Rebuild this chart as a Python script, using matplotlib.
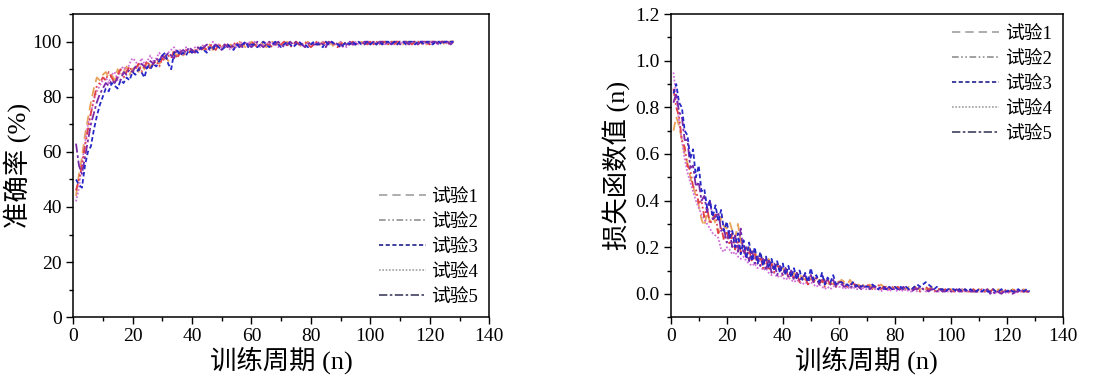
import matplotlib
matplotlib.use("Agg")
import matplotlib.pyplot as plt
from matplotlib.ticker import MultipleLocator, FormatStrFormatter
from matplotlib.lines import Line2D

epochs = list(range(1, 129))

acc1 = [44, 52, 58, 66, 72, 78, 83, 87, 86, 88,
        89, 87, 88, 86, 90, 88, 89, 91, 88, 90,
        91, 89, 92, 90, 93, 91, 92, 94, 92, 93,
        95, 93, 94, 96, 95, 97, 95, 96, 97, 96,
        97, 96, 98, 97, 98, 99, 97, 98, 99, 98,
        99, 98, 99, 98, 99, 100, 99, 98, 99, 100,
        99, 99, 100, 99, 98, 99, 100, 99, 99, 100,
        99, 100, 99, 99, 100, 99, 98, 99, 100, 99,
        100, 99, 99, 100, 99, 100, 99, 98, 99, 100,
        99, 100, 99, 100, 99, 99, 100, 99, 100, 99,
        100, 99, 100, 99, 100, 99, 100, 100, 99, 100,
        99, 100, 100, 99, 100, 99, 100, 100, 99, 100,
        100, 99, 100, 100, 99, 100, 100, 100]
acc2 = [46, 50, 55, 62, 68, 74, 79, 84, 85, 87,
        86, 89, 87, 85, 88, 90, 87, 89, 91, 89,
        90, 92, 89, 91, 93, 90, 92, 93, 91, 94,
        93, 95, 94, 97, 94, 96, 95, 97, 96, 97,
        96, 98, 97, 98, 97, 99, 98, 97, 99, 98,
        98, 99, 98, 99, 100, 98, 99, 99, 98, 100,
        99, 98, 99, 100, 99, 99, 98, 100, 99, 99,
        100, 99, 98, 99, 100, 99, 99, 100, 99, 98,
        99, 100, 99, 99, 100, 99, 100, 99, 98, 99,
        100, 99, 99, 100, 99, 100, 99, 100, 99, 100,
        99, 100, 99, 100, 100, 99, 100, 99, 100, 100,
        100, 99, 100, 99, 100, 100, 99, 100, 100, 99,
        100, 100, 99, 100, 100, 99, 100, 100]
acc3 = [50, 48, 47, 55, 60, 62, 68, 73, 77, 80,
        83, 82, 85, 84, 83, 86, 85, 87, 86, 89,
        88, 90, 89, 87, 91, 90, 92, 91, 93, 95,
        96, 92, 90, 96, 97, 95, 96, 95, 97, 96,
        97, 96, 98, 97, 96, 98, 97, 99, 98, 97,
        98, 99, 98, 97, 99, 98, 99, 100, 98, 99,
        99, 98, 99, 100, 99, 98, 99, 100, 99, 98,
        99, 100, 99, 98, 99, 100, 99, 99, 98, 99,
        100, 99, 99, 98, 100, 99, 100, 99, 99, 98,
        99, 100, 99, 100, 99, 100, 99, 99, 100, 99,
        100, 99, 100, 99, 100, 100, 99, 100, 99, 100,
        100, 99, 100, 100, 99, 100, 100, 99, 100, 100,
        99, 100, 100, 99, 100, 100, 100, 100]
acc4 = [42, 47, 56, 63, 70, 74, 79, 82, 84, 86,
        87, 85, 88, 89, 86, 90, 91, 89, 92, 94,
        93, 91, 94, 92, 93, 95, 93, 94, 96, 94,
        95, 96, 97, 98, 96, 97, 95, 98, 97, 96,
        98, 97, 98, 99, 97, 98, 100, 98, 99, 98,
        99, 98, 97, 99, 98, 99, 100, 99, 100, 99,
        100, 99, 98, 99, 100, 99, 100, 99, 98, 99,
        100, 99, 100, 99, 99, 100, 99, 98, 100, 99,
        99, 100, 99, 100, 99, 99, 100, 99, 99, 100,
        99, 98, 100, 99, 100, 99, 100, 99, 100, 100,
        99, 100, 99, 100, 99, 100, 100, 99, 100, 99,
        100, 100, 99, 100, 99, 100, 100, 100, 99, 100,
        100, 99, 100, 100, 100, 99, 100, 100]
acc5 = [63, 55, 52, 58, 64, 70, 74, 78, 81, 83,
        85, 84, 86, 85, 87, 86, 89, 88, 90, 89,
        91, 90, 92, 91, 90, 93, 92, 94, 93, 95,
        94, 96, 95, 94, 97, 96, 97, 96, 98, 97,
        96, 98, 97, 98, 99, 97, 98, 99, 98, 97,
        99, 98, 99, 98, 99, 99, 98, 100, 99, 98,
        99, 100, 99, 98, 99, 100, 99, 99, 100, 99,
        98, 99, 100, 99, 100, 99, 99, 98, 99, 100,
        99, 99, 100, 99, 98, 100, 99, 100, 99, 99,
        98, 99, 100, 99, 99, 100, 99, 100, 100, 99,
        100, 99, 100, 100, 99, 100, 99, 100, 100, 99,
        100, 100, 99, 100, 100, 99, 100, 100, 100, 99,
        100, 100, 99, 100, 100, 100, 99, 100]

loss1 = [0.70, 0.76, 0.72, 0.66, 0.60, 0.56, 0.50, 0.46, 0.42, 0.38,
         0.32, 0.29, 0.35, 0.31, 0.34, 0.30, 0.26, 0.33, 0.29, 0.28,
         0.31, 0.27, 0.24, 0.30, 0.22, 0.21, 0.19, 0.20, 0.17, 0.18,
         0.15, 0.17, 0.14, 0.13, 0.15, 0.12, 0.11, 0.13, 0.10, 0.11,
         0.09, 0.10, 0.08, 0.09, 0.07, 0.08, 0.07, 0.06, 0.08, 0.06,
         0.07, 0.05, 0.06, 0.05, 0.06, 0.04, 0.05, 0.04, 0.06, 0.05,
         0.06, 0.05, 0.04, 0.06, 0.04, 0.03, 0.04, 0.03, 0.04, 0.03,
         0.04, 0.03, 0.02, 0.03, 0.04, 0.03, 0.02, 0.03, 0.02, 0.03,
         0.02, 0.03, 0.02, 0.02, 0.03, 0.02, 0.03, 0.02, 0.02, 0.03,
         0.02, 0.02, 0.03, 0.02, 0.01, 0.02, 0.02, 0.01, 0.02, 0.02,
         0.01, 0.02, 0.01, 0.02, 0.01, 0.01, 0.02, 0.01, 0.01, 0.02,
         0.01, 0.01, 0.02, 0.01, 0.01, 0.01, 0.02, 0.01, 0.01, 0.01,
         0.01, 0.02, 0.01, 0.01, 0.01, 0.02, 0.01, 0.01]
loss2 = [0.88, 0.80, 0.76, 0.66, 0.63, 0.55, 0.53, 0.46, 0.45, 0.39,
         0.40, 0.33, 0.37, 0.30, 0.32, 0.34, 0.26, 0.29, 0.23, 0.27,
         0.21, 0.26, 0.19, 0.23, 0.18, 0.21, 0.15, 0.19, 0.14, 0.17,
         0.13, 0.16, 0.11, 0.15, 0.10, 0.13, 0.09, 0.12, 0.11, 0.08,
         0.11, 0.07, 0.10, 0.06, 0.09, 0.05, 0.08, 0.07, 0.04, 0.08,
         0.05, 0.07, 0.04, 0.06, 0.03, 0.06, 0.04, 0.05, 0.03, 0.05,
         0.05, 0.04, 0.03, 0.04, 0.05, 0.03, 0.04, 0.03, 0.03, 0.04,
         0.03, 0.02, 0.03, 0.04, 0.02, 0.03, 0.03, 0.02, 0.03, 0.02,
         0.03, 0.02, 0.02, 0.03, 0.02, 0.02, 0.03, 0.02, 0.01, 0.02,
         0.03, 0.02, 0.02, 0.01, 0.02, 0.02, 0.01, 0.02, 0.01, 0.02,
         0.01, 0.01, 0.02, 0.01, 0.02, 0.01, 0.01, 0.02, 0.01, 0.01,
         0.02, 0.01, 0.01, 0.01, 0.02, 0.01, 0.01, 0.01, 0.02, 0.01,
         0.01, 0.01, 0.02, 0.01, 0.01, 0.01, 0.01, 0.01]
loss3 = [0.86, 0.90, 0.82, 0.80, 0.70, 0.68, 0.58, 0.62, 0.50, 0.55,
         0.44, 0.45, 0.37, 0.40, 0.33, 0.38, 0.31, 0.36, 0.27, 0.31,
         0.24, 0.27, 0.20, 0.26, 0.17, 0.23, 0.15, 0.22, 0.14, 0.20,
         0.13, 0.18, 0.12, 0.16, 0.11, 0.15, 0.10, 0.14, 0.09, 0.13,
         0.08, 0.12, 0.07, 0.11, 0.06, 0.10, 0.06, 0.09, 0.05, 0.11,
         0.06, 0.08, 0.05, 0.09, 0.04, 0.07, 0.05, 0.08, 0.04, 0.05,
         0.05, 0.04, 0.04, 0.03, 0.05, 0.03, 0.04, 0.03, 0.04, 0.03,
         0.03, 0.04, 0.03, 0.02, 0.03, 0.03, 0.02, 0.03, 0.02, 0.03,
         0.02, 0.03, 0.02, 0.03, 0.02, 0.02, 0.03, 0.04, 0.03, 0.04,
         0.05, 0.04, 0.03, 0.02, 0.03, 0.02, 0.02, 0.01, 0.02, 0.02,
         0.02, 0.01, 0.02, 0.01, 0.02, 0.01, 0.02, 0.01, 0.01, 0.02,
         0.01, 0.02, 0.01, 0.01, 0.02, 0.01, 0.01, 0.02, 0.01, 0.01,
         0.02, 0.01, 0.01, 0.02, 0.01, 0.01, 0.02, 0.01]
loss4 = [0.95, 0.85, 0.74, 0.66, 0.58, 0.52, 0.48, 0.44, 0.40, 0.37,
         0.34, 0.32, 0.30, 0.28, 0.26, 0.25, 0.24, 0.19, 0.18, 0.20,
         0.19, 0.17, 0.18, 0.16, 0.15, 0.16, 0.14, 0.13, 0.12, 0.13,
         0.11, 0.12, 0.10, 0.11, 0.09, 0.08, 0.09, 0.07, 0.08, 0.07,
         0.06, 0.07, 0.06, 0.05, 0.06, 0.05, 0.04, 0.05, 0.04, 0.05,
         0.04, 0.03, 0.04, 0.03, 0.02, 0.03, 0.02, 0.03, 0.04, 0.03,
         0.03, 0.02, 0.03, 0.02, 0.03, 0.02, 0.02, 0.03, 0.02, 0.02,
         0.02, 0.03, 0.02, 0.02, 0.01, 0.02, 0.02, 0.01, 0.02, 0.02,
         0.01, 0.02, 0.01, 0.02, 0.01, 0.01, 0.02, 0.01, 0.01, 0.02,
         0.01, 0.01, 0.02, 0.01, 0.01, 0.01, 0.02, 0.01, 0.01, 0.01,
         0.01, 0.01, 0.01, 0.02, 0.01, 0.01, 0.01, 0.01, 0.02, 0.01,
         0.01, 0.01, 0.01, 0.01, 0.00, 0.01, 0.00, 0.01, 0.01, 0.00,
         0.01, 0.01, 0.00, 0.01, 0.01, 0.01, 0.01, 0.01]
loss5 = [0.82, 0.86, 0.78, 0.76, 0.66, 0.66, 0.54, 0.55, 0.46, 0.48,
         0.40, 0.42, 0.35, 0.40, 0.32, 0.33, 0.35, 0.27, 0.28, 0.22,
         0.27, 0.20, 0.25, 0.18, 0.28, 0.17, 0.20, 0.14, 0.19, 0.13,
         0.16, 0.12, 0.15, 0.10, 0.15, 0.09, 0.13, 0.08, 0.12, 0.08,
         0.11, 0.07, 0.10, 0.06, 0.09, 0.06, 0.07, 0.08, 0.05, 0.08,
         0.05, 0.07, 0.04, 0.08, 0.05, 0.06, 0.04, 0.06, 0.03, 0.05,
         0.04, 0.03, 0.04, 0.03, 0.03, 0.04, 0.03, 0.02, 0.03, 0.03,
         0.02, 0.03, 0.03, 0.02, 0.03, 0.02, 0.02, 0.03, 0.02, 0.02,
         0.02, 0.02, 0.03, 0.02, 0.02, 0.01, 0.02, 0.02, 0.03, 0.02,
         0.02, 0.01, 0.02, 0.02, 0.01, 0.02, 0.01, 0.01, 0.02, 0.01,
         0.01, 0.02, 0.01, 0.01, 0.01, 0.02, 0.01, 0.01, 0.01, 0.01,
         0.01, 0.01, 0.02, 0.00, 0.01, 0.00, 0.01, 0.00, 0.01, 0.01,
         0.01, 0.00, 0.01, 0.01, 0.02, 0.01, 0.01, 0.01]

labels = ["试验1", "试验2", "试验3", "试验4", "试验5"]
colors = ["#E8A25A", "#E0404A", "#2828C8", "#D070D8", "#7A2AA8"]
styles = [(0, (5, 3)), (0, (4, 1.5, 1, 1.5, 1, 1.5)), (0, (2.5, 1.5)),
          (0, (1, 1)), (0, (5, 1.5, 1.5, 1.5))]
legend_colors = ["#A0A0A0", "#909090", "#20208C", "#A0A0A0", "#404060"]

FONT = ["Liberation Serif", "Noto Sans CJK SC", "DejaVu Sans"]
plt.rcParams['font.family'] = FONT
plt.rcParams['axes.unicode_minus'] = False

fig = plt.figure(figsize=(11.10, 3.83), dpi=100)
ax1 = fig.add_axes([0.0658, 0.172, 0.375, 0.791])
ax2 = fig.add_axes([0.6042, 0.172, 0.3535, 0.791])

acc_series = [acc1, acc2, acc3, acc4, acc5]
loss_series = [loss1, loss2, loss3, loss4, loss5]


def style_axes(ax):
    ax.xaxis.set_major_locator(MultipleLocator(20))
    ax.xaxis.set_minor_locator(MultipleLocator(10))
    ax.tick_params(which='major', direction='out', length=5, width=1,
                   labelsize=14, top=False, right=False, pad=3)
    ax.tick_params(which='minor', direction='out', length=3, width=1,
                   top=False, right=False)
    for s in ax.spines.values():
        s.set_linewidth(1.1)
    ax.set_xlim(0, 140)
    ax.set_xlabel("训练周期 (n)", fontsize=19, labelpad=1)


order = [0, 3, 1, 4, 2]
for i in order:
    ax1.plot(epochs, acc_series[i], color=colors[i], linestyle=styles[i], lw=1.3)
    ax2.plot(epochs, loss_series[i], color=colors[i], linestyle=styles[i], lw=1.3)

style_axes(ax1)
ax1.set_ylim(0, 110)
ax1.yaxis.set_major_locator(MultipleLocator(20))
ax1.yaxis.set_minor_locator(MultipleLocator(10))
ax1.set_ylabel("准确率 (%)", fontsize=19, labelpad=1)

style_axes(ax2)
ax2.set_ylim(-0.1, 1.2)
ax2.yaxis.set_major_locator(MultipleLocator(0.2))
ax2.yaxis.set_minor_locator(MultipleLocator(0.1))
ax2.yaxis.set_major_formatter(FormatStrFormatter('%.1f'))
ax2.set_ylabel("损失函数值 (n)", fontsize=19, labelpad=3)

handles = [Line2D([], [], color=legend_colors[i], linestyle=styles[i], lw=1.2)
           for i in range(5)]
ax1.legend(handles, labels, loc='lower right', frameon=False, fontsize=13.5,
           handlelength=2.5, handletextpad=0.3, labelspacing=0.42,
           borderaxespad=0.2, bbox_to_anchor=(1.0, 0.0))
ax2.legend(handles, labels, loc='upper right', frameon=False, fontsize=13.5,
           handlelength=2.5, handletextpad=0.3, labelspacing=0.42,
           borderaxespad=0.2, bbox_to_anchor=(1.0, 1.0))

fig.savefig("out.png", dpi=100)
